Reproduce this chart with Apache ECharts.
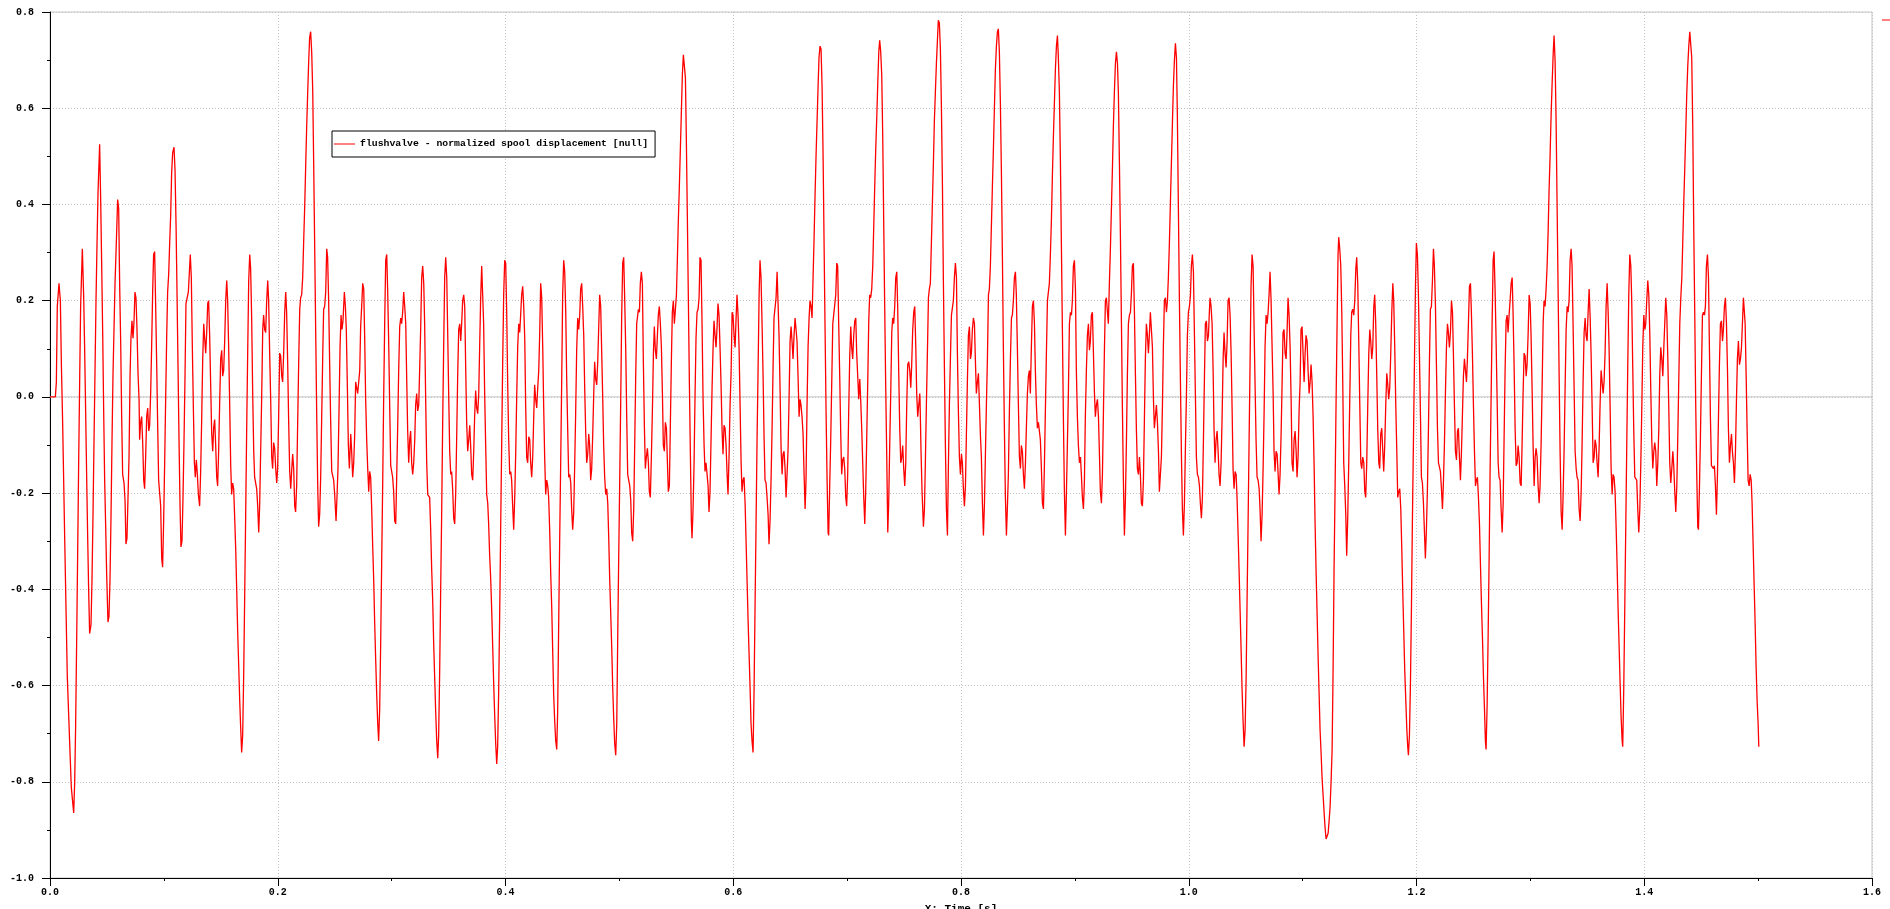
<!DOCTYPE html>
<html><head><meta charset="utf-8">
<script src="https://cdn.jsdelivr.net/npm/echarts@6/dist/echarts.min.js"></script>
<style>html,body{margin:0;padding:0;background:#fff}#c{width:1890px;height:909px}</style>
</head><body><div id="c"></div>
<script>
const seriesName = 'flushvalve - normalized spool displacement [null]';
const xAxisTitle = 'X: Time [s]';
const xTicks = {min: 0, max: 1.6, step: 0.2};
const yTicks = {min: -1.0, max: 0.8, step: 0.2};
const zeroLine = [[0, 0], [1.6, 0]];

// [time s, value]
const seg0 = [[0,0],[.0047,0],[.0056,.031],[.0064,.188],[.0079,.236],[.0091,.2],[.01,.067],[.0111,-.053],[.0129,-.294],[.0152,-.582],[.0173,-.721],[.0187,-.811],[.0208,-.865],[.0217,-.799],[.0225,-.685],[.0234,-.51],[.0243,-.324],[.0252,-.131],[.0261,.043],[.0269,.188],[.0284,.308],[.0296,.206],[.0304,.103],[.0313,-.029],[.0322,-.166],[.0331,-.294],[.034,-.408],[.0348,-.492],[.036,-.474],[.0369,-.378],[.0378,-.239],[.0386,-.101],[.0395,.049],[.0404,.2],[.0413,.32],[.0422,.428],[.0436,.525],[.0445,.41],[.0454,.272],[.0463,.128],[.0471,-.023],[.048,-.173],[.0489,-.27],[.0498,-.372],[.0509,-.468],[.0518,-.456],[.0527,-.378],[.0536,-.245],[.0544,-.101],[.0553,.043],[.0562,.14],[.0571,.236],[.058,.302],[.0594,.41],[.0603,.392],[.0612,.23],[.0621,.11],[.0629,-.035],[.0638,-.161],[.065,-.179],[.0659,-.215],[.0667,-.306],[.0676,-.294],[.0685,-.209],[.0694,-.125],[.0703,.043],[.0711,.122],[.072,.158],[.0729,.122],[.0738,.158],[.0746,.218],[.0755,.206],[.0764,.14],[.0773,.049],[.0782,-.005],[.0787,-.089],[.0796,-.053],[.0805,-.041],[.0814,-.095],[.0823,-.173],[.0831,-.191],[.084,-.125],[.0849,-.041],[.0858,-.023],[.0867,-.071],[.0875,-.059],[.0884,.007],[.0893,.11],[.0902,.224],[.091,.296],[.0919,.302],[.0928,.188],[.0937,.067],[.0946,-.065],[.0954,-.173],[.0972,-.227],[.0981,-.336],[.0989,-.354],[.0998,-.258],[.1007,-.137],[.1016,.001],[.1025,.128],[.1033,.218],[.1042,.254],[.1051,.32],[.106,.38],[.1068,.464],[.1077,.507],[.1089,.519],[.1098,.471],[.1107,.356],[.1115,.224],[.1124,.067],[.1133,-.089],[.1142,-.227],[.115,-.312],[.1159,-.3],[.1168,-.209],[.1177,-.089],[.1186,.049],[.1194,.194],[.1206,.194],[.1215,.218],[.1224,.26],[.1232,.296],[.1241,.248],[.125,.103],[.1259,-.023],[.1268,-.137],[.1276,-.167],[.1285,-.131],[.1294,-.161],[.1303,-.203],[.1314,-.227],[.1323,-.155],[.1332,-.047],[.1341,.079],[.135,.152],[.1358,.122],[.1367,.091],[.1376,.134],[.1385,.194],[.1393,.2],[.1402,.128],[.1411,.025],[.142,-.077],[.1429,-.113],[.1437,-.065],[.1446,-.047],[.1455,-.101],[.1464,-.167],[.1472,-.185],[.1481,-.113],[.149,-.011],[.1499,.079],[.1508,.097],[.1516,.043],[.1525,.055],[.1534,.116],[.1543,.2],[.1552,.242],[.156,.2],[.1569,.103],[.1578,-.017],[.1587,-.143],[.1595,-.203],[.1604,-.179],[.1613,-.191],[.1622,-.252],[.1631,-.318],[.1639,-.396],[.1648,-.486],[.1657,-.558],[.1666,-.631],[.1674,-.685],[.1683,-.739],[.1692,-.703],[.1701,-.576],[.171,-.408],[.1718,-.252],[.1727,-.071],[.1736,.091],[.1745,.242],[.1754,.296],[.1762,.266],[.1771,.164],[.178,.007],[.1789,-.113],[.1797,-.167],[.1815,-.191],[.1824,-.227],[.1833,-.282],[.1841,-.227],[.185,-.113],[.1859,.001],[.1868,.14],[.1876,.17],[.1885,.14],[.1894,.134],[.1903,.2],[.1912,.242],[.192,.2],[.1929,.091],[.1938,-.005],[.1947,-.125],[.1955,-.149],[.1964,-.095],[.1973,-.107],[.1982,-.149],[.1991,-.179],[.1999,-.149],[.2008,-.041],[.2017,.091],[.2026,.085],[.2035,.043],[.2043,.031],[.2052,.091],[.2061,.176],[.207,.218],[.2078,.176],[.2087,.073],[.2096,-.053],[.2105,-.155],[.2114,-.191],[.2122,-.155],[.2131,-.119],[.214,-.149],[.2149,-.227],[.2157,-.239],[.2166,-.185],[.2175,-.053],[.2184,.073],[.2193,.182],[.2201,.206],[.221,.212],[.2219,.248],[.2228,.326],[.2237,.398],[.2245,.477],[.2254,.561],[.2263,.633],[.2272,.699],[.228,.747],[.2289,.759],[.2298,.717],[.2307,.639],[.2316,.477],[.2324,.32],[.2333,.14],[.2342,-.035],[.2351,-.185],[.2359,-.27],[.2368,-.245],[.2377,-.167],[.2386,-.041],[.2395,.085],[.2403,.182],[.2412,.188],[.2421,.218],[.243,.308],[.2438,.29],[.2447,.2],[.2456,.067],[.2465,-.053],[.2474,-.155],[.2491,-.173],[.25,-.203],[.2512,-.258],[.252,-.209],[.2529,-.149],[.2538,-.029],[.2547,.103],[.2556,.17],[.2564,.14],[.2573,.158],[.2585,.218],[.2594,.188],[.2602,.14],[.2611,.025]];
const seg1 = [[.262,-.101],[.2629,-.149],[.2641,-.077],[.2649,-.113],[.2658,-.167],[.2667,-.137],[.2676,-.077],[.2684,.031],[.2702,.007],[.272,.055],[.2728,.146],[.2737,.188],[.2746,.236],[.2755,.224],[.2763,.128],[.2772,-.005],[.2781,-.089],[.279,-.149],[.2799,-.197],[.2807,-.155],[.2816,-.167],[.2825,-.233],[.2834,-.312],[.2843,-.384],[.2851,-.468],[.286,-.546],[.2869,-.619],[.2878,-.679],[.2886,-.715],[.2895,-.649],[.2904,-.51],[.2913,-.336],[.2922,-.173],[.293,-.005],[.2939,.152],[.2948,.284],[.2957,.296],[.2965,.224],[.2974,.116],[.2983,-.017],[.2992,-.143],[.3009,-.167],[.3018,-.197],[.3027,-.258],[.3036,-.264],[.3044,-.173],[.3053,-.065],[.3062,.055],[.3071,.146],[.308,.164],[.3088,.152],[.3097,.176],[.3106,.218],[.3115,.188],[.3124,.152],[.3132,.043],[.3141,-.071],[.315,-.137],[.3159,-.089],[.3167,-.071],[.3176,-.137],[.3185,-.161],[.3194,-.137],[.3203,-.089],[.3211,-.017],[.322,.007],[.3229,-.029],[.3238,-.017],[.3246,.055],[.3255,.14],[.3264,.248],[.3273,.272],[.3282,.236],[.329,.152],[.3299,-.005],[.3308,-.137],[.3317,-.203],[.3334,-.209],[.3343,-.276],[.3352,-.36],[.3361,-.426],[.3369,-.51],[.3378,-.582],[.3387,-.655],[.3396,-.715],[.3405,-.751],[.3413,-.703],[.3422,-.57],[.3431,-.396],[.344,-.233],[.3448,-.059],[.3457,.103],[.3466,.248],[.3475,.29],[.3484,.248],[.3492,.14],[.3501,.007],[.351,-.113],[.3519,-.161],[.3527,-.155],[.3536,-.191],[.3545,-.252],[.3554,-.264],[.3563,-.197],[.3571,-.089],[.358,.043],[.3589,.14],[.3598,.152],[.3607,.116],[.3615,.152],[.3624,.2],[.3633,.212],[.3642,.188],[.365,.067],[.3659,-.053],[.3668,-.113],[.3677,-.089],[.3686,-.059],[.3694,-.101],[.3703,-.161],[.3712,-.173],[.3721,-.113],[.3729,-.041],[.3738,.013],[.3747,-.023],[.3756,-.035],[.3765,.007],[.3773,.103],[.3782,.206],[.3791,.272],[.38,.272],[.3808,.152],[.3817,.007],[.3826,-.101],[.3835,-.203],[.3844,-.221],[.3852,-.264],[.3861,-.33],[.387,-.378],[.3879,-.444],[.3888,-.522],[.3896,-.594],[.3905,-.661],[.3914,-.721],[.3923,-.763],[.3931,-.727],[.394,-.613],[.3949,-.45],[.3958,-.264],[.3967,-.089],[.3975,.067],[.3984,.212],[.3993,.284],[.4002,.278],[.4011,.17],[.4019,.031],[.4028,-.089],[.4037,-.161],[.4046,-.155],[.4054,-.173],[.4063,-.227],[.4072,-.276],[.4081,-.209],[.409,-.113],[.4098,-.005],[.4107,.103],[.4116,.152],[.4125,.134],[.4133,.17],[.4142,.212],[.4151,.23],[.416,.188],[.4169,.122],[.4177,-.017],[.4186,-.125],[.4195,-.137],[.4204,-.083],[.4213,-.089],[.4221,-.137],[.423,-.167],[.4239,-.125],[.4248,-.041],[.4256,.025],[.4265,-.005],[.4274,-.023],[.4283,.019],[.4292,.055],[.43,.128],[.4309,.236],[.4318,.206],[.4327,.103],[.4335,-.017],[.4344,-.125],[.4353,-.203],[.4362,-.173],[.4371,-.185],[.4379,-.209],[.4388,-.276],[.4397,-.366],[.4406,-.438],[.4415,-.534],[.4423,-.619],[.4432,-.673],[.4441,-.715],[.445,-.733],[.4458,-.655],[.4467,-.474],[.4476,-.294],[.4485,-.131],[.4494,.043],[.4502,.212],[.4511,.284],[.452,.26],[.4529,.176],[.4537,.043],[.4546,-.065],[.4555,-.167],[.4564,-.161],[.4573,-.179],[.4581,-.233],[.459,-.276],[.4599,-.239],[.4608,-.137],[.4616,-.035],[.4625,.097],[.4634,.164],[.4643,.14],[.4652,.17],[.466,.224],[.4669,.236],[.4678,.188],[.4687,.128],[.4696,.013],[.4704,-.071],[.4713,-.137],[.4722,-.119],[.4731,-.077],[.4739,-.101],[.4748,-.173],[.4757,-.149],[.4766,-.077],[.4775,.007],[.4783,.073],[.4792,.037],[.4801,.025],[.481,.073],[.4818,.14],[.4827,.212],[.4836,.188],[.4845,.091],[.4854,-.005],[.4862,-.101],[.4871,-.167],[.488,-.203],[.4889,-.191],[.4898,-.221],[.4906,-.288],[.4915,-.378],[.4924,-.45],[.4933,-.522],[.4941,-.6],[.495,-.667],[.4959,-.721],[.4968,-.745],[.4977,-.679],[.4985,-.51],[.4994,-.336],[.5003,-.173],[.5012,-.005],[.502,.164],[.5029,.278],[.5038,.29],[.5047,.2],[.5056,.097],[.5064,-.035],[.5073,-.161],[.5091,-.185],[.51,-.215],[.5108,-.282],[.5117,-.3],[.5126,-.233],[.5135,-.095],[.5143,.037],[.5152,.152],[.5161,.17]];
const seg2 = [[.5167,.182],[.5176,.176],[.5184,.236],[.5193,.26],[.5202,.236],[.5211,.067],[.522,-.065],[.5228,-.149],[.5237,-.125],[.5246,-.107],[.5255,-.137],[.5263,-.197],[.5272,-.209],[.5281,-.125],[.529,-.029],[.5299,.091],[.5307,.146],[.5316,.097],[.5325,.079],[.5334,.128],[.5342,.17],[.5351,.188],[.536,.152],[.5369,.103],[.5378,.007],[.5386,-.101],[.5395,-.113],[.5404,-.053],[.5413,-.065],[.5422,-.137],[.543,-.197],[.5439,-.185],[.5448,-.053],[.5457,.079],[.5465,.176],[.5474,.2],[.5483,.152],[.5492,.152],[.5501,.212],[.5509,.284],[.5518,.368],[.5527,.44],[.5536,.519],[.5545,.597],[.5553,.669],[.5562,.711],[.5571,.711],[.558,.663],[.5588,.537],[.5597,.374],[.5606,.2],[.5615,.025],[.5624,-.125],[.5632,-.258],[.5638,-.294],[.5647,-.233],[.5656,-.137],[.5664,-.005],[.5673,.122],[.5682,.176],[.5691,.182],[.57,.206],[.5708,.29],[.5717,.284],[.5726,.152],[.5735,-.005],[.5744,-.101],[.5752,-.155],[.5761,-.137],[.577,-.137],[.5779,-.185],[.5787,-.239],[.5796,-.197],[.5805,-.089],[.5814,.019],[.5823,.103],[.5831,.158],[.584,.128],[.5849,.103],[.5858,.146],[.5866,.194],[.5875,.17],[.5884,.103],[.5893,.025],[.5902,-.071],[.591,-.119],[.5919,-.059],[.5928,-.065],[.5937,-.101],[.5946,-.161],[.5954,-.203],[.5963,-.125],[.5972,-.017],[.5981,.049],[.599,.176],[.5998,.17],[.6007,.128],[.6016,.103],[.6025,.164],[.6033,.212],[.6042,.17],[.6051,.103],[.606,-.017],[.6069,-.137],[.6077,-.197],[.6086,-.173],[.6095,-.167],[.6104,-.221],[.6112,-.294],[.6121,-.378],[.613,-.462],[.6139,-.534],[.6148,-.606],[.6156,-.679],[.6165,-.715],[.6174,-.739],[.6183,-.606],[.6191,-.444],[.62,-.27],[.6209,-.089],[.6218,.055],[.6227,.212],[.6235,.284],[.6244,.248],[.6253,.152],[.6262,.043],[.6271,-.089],[.6279,-.173],[.6288,-.179],[.6297,-.209],[.6306,-.245],[.6314,-.306],[.6323,-.258],[.6332,-.173],[.6341,-.065],[.635,.067],[.6358,.164],[.6367,.164],[.6376,.206],[.6385,.26],[.6393,.26],[.6402,.128],[.6411,.019],[.642,-.107],[.6429,-.161],[.6437,-.119],[.6446,-.113],[.6455,-.149],[.6464,-.209],[.6473,-.209],[.6481,-.113],[.649,-.005],[.6499,.116],[.6508,.146],[.6516,.116],[.6525,.079],[.6534,.128],[.6543,.164],[.6552,.164],[.656,.116],[.6569,.043],[.6578,-.041],[.6587,-.005],[.6595,-.017],[.6604,-.041],[.6613,-.077],[.6622,-.161],[.6631,-.233],[.6639,-.173],[.6648,-.017],[.6657,.103],[.6666,.164],[.6674,.2],[.6683,.188],[.6692,.164],[.6701,.248],[.671,.332],[.6718,.416],[.6727,.5],[.6736,.573],[.6745,.645],[.6753,.705],[.6762,.729],[.6771,.723],[.678,.645],[.6789,.5],[.6797,.332],[.6806,.146],[.6815,-.029],[.6824,-.173],[.6833,-.282],[.6838,-.288],[.6847,-.185],[.6856,-.089],[.6865,.031],[.6874,.152],[.6882,.17],[.6891,.17],[.69,.212],[.6909,.278],[.6917,.272],[.6926,.152],[.6935,.043],[.6944,-.077],[.6952,-.161],[.6961,-.131],[.697,-.125],[.6979,-.149],[.6988,-.209],[.6996,-.227],[.7005,-.161],[.7014,-.029],[.7023,.085],[.7032,.146],[.704,.103],[.7049,.079],[.7058,.128],[.7067,.158],[.7076,.164],[.7084,.091],[.7093,.043],[.7102,-.005],[.7111,.037],[.7119,-.005],[.7128,-.065],[.7137,-.137],[.7146,-.209],[.7155,-.264],[.7163,-.197],[.7172,-.089],[.7181,.031],[.719,.158],[.7198,.212],[.7207,.206],[.7216,.224],[.7225,.272],[.7234,.356],[.7242,.434],[.7251,.513],[.726,.579],[.7269,.651],[.7278,.717],[.7286,.741],[.7295,.717],[.7304,.669],[.7313,.537],[.7321,.368],[.733,.188],[.7339,.019],[.7348,-.125],[.7357,-.282],[.7365,-.221],[.7374,-.101],[.7383,.007],[.7392,.134],[.74,.164],[.7409,.152],[.7418,.188],[.7427,.248],[.7436,.26],[.7444,.188],[.7453,.055],[.7462,-.065],[.7471,-.137],[.748,-.125],[.7488,-.101],[.7497,-.149],[.7506,-.185],[.7515,-.137],[.7523,-.023],[.7532,.067],[.7541,.073],[.755,.055],[.7559,.019],[.7567,.067],[.7576,.14],[.7585,.176],[.7594,.188],[.7603,.103],[.7611,.007],[.762,-.041],[.7629,-.017],[.7638,.007]];
const seg3 = [[.764,-.005],[.7649,-.113],[.7658,-.197],[.767,-.27],[.7679,-.233],[.7687,-.137],[.7696,-.017],[.7705,.091],[.7714,.206],[.7722,.224],[.7731,.236],[.774,.32],[.7749,.404],[.7758,.489],[.7766,.573],[.7775,.633],[.7784,.693],[.7793,.741],[.7801,.783],[.781,.777],[.7819,.723],[.7828,.603],[.7837,.44],[.7845,.248],[.7854,.067],[.7863,-.101],[.7872,-.233],[.7881,-.288],[.7889,-.149],[.7898,-.017],[.7907,.079],[.7916,.17],[.7924,.17],[.7933,.2],[.7942,.248],[.7951,.278],[.796,.248],[.7968,.097],[.7977,-.029],[.7986,-.125],[.7995,-.161],[.8004,-.119],[.8012,-.137],[.8021,-.191],[.803,-.227],[.8039,-.185],[.8047,-.083],[.8056,.031],[.8065,.128],[.8074,.146],[.8083,.079],[.8091,.091],[.81,.14],[.8109,.164],[.8118,.152],[.8126,.079],[.8135,.007],[.8144,.031],[.8153,.049],[.8162,-.017],[.817,-.077],[.8179,-.125],[.8188,-.221],[.8197,-.288],[.8206,-.221],[.8214,-.125],[.8223,-.017],[.8232,.079],[.8241,.212],[.8249,.224],[.8258,.272],[.8267,.356],[.8276,.44],[.8285,.519],[.8293,.597],[.8302,.681],[.8311,.729],[.832,.759],[.8328,.765],[.8337,.717],[.8346,.609],[.8355,.464],[.8364,.284],[.8372,.103],[.8381,-.065],[.839,-.209],[.8399,-.288],[.8407,-.233],[.8416,-.161],[.8425,-.029],[.8434,.079],[.8443,.164],[.8451,.17],[.846,.2],[.8469,.248],[.8478,.26],[.8486,.212],[.8495,.103],[.8504,-.017],[.8513,-.125],[.8522,-.149],[.853,-.101],[.8539,-.113],[.8548,-.161],[.8557,-.191],[.8566,-.137],[.8574,-.065],[.8583,.007],[.8592,.043],[.8601,.055],[.8609,.007],[.8618,.103],[.8627,.188],[.8636,.2],[.8645,.152],[.8653,.055],[.8662,-.017],[.8671,-.065],[.868,-.053],[.8689,-.053],[.8697,-.089],[.8706,-.149],[.8715,-.221],[.8724,-.233],[.8732,-.149],[.8741,-.029],[.875,.091],[.8759,.2],[.8768,.2],[.8776,.236],[.8785,.296],[.8794,.368],[.8803,.464],[.8811,.537],[.882,.609],[.8829,.681],[.8838,.729],[.8847,.751],[.8855,.705],[.8864,.633],[.8873,.489],[.8882,.308],[.8891,.128],[.8899,-.041],[.8908,-.197],[.8917,-.288],[.8926,-.197],[.8934,-.101],[.8943,.007],[.8952,.152],[.8961,.176],[.897,.17],[.8978,.2],[.8987,.272],[.8996,.284],[.9005,.224],[.9013,.055],[.9022,-.041],[.9031,-.101],[.904,-.137],[.9049,-.125],[.9057,-.161],[.9066,-.209],[.9075,-.233],[.9084,-.173],[.9092,-.041],[.9101,.055],[.911,.128],[.9119,.152],[.9128,.097],[.9136,.116],[.9145,.17],[.9154,.176],[.9163,.091],[.9172,.007],[.918,-.041],[.9189,-.017],[.9198,-.005],[.9207,-.041],[.9215,-.113],[.9224,-.197],[.9233,-.221],[.9242,-.161],[.9251,-.029],[.9259,.091],[.9268,.2],[.9277,.206],[.9286,.176],[.9294,.152],[.9303,.236],[.9312,.308],[.9321,.392],[.933,.477],[.9338,.561],[.9347,.633],[.9356,.693],[.9365,.717],[.9374,.693],[.9382,.633],[.9391,.489],[.94,.332],[.9409,.152],[.9417,-.017],[.9426,-.173],[.9435,-.288],[.9444,-.209],[.9453,-.089],[.9461,.043],[.947,.152],[.9479,.17],[.9488,.176],[.9496,.212],[.9505,.272],[.9514,.278],[.9523,.176],[.9532,.043],[.954,-.065],[.9549,-.149],[.9558,-.161],[.9567,-.125],[.9575,-.161],[.9584,-.221],[.9593,-.227],[.9602,-.173],[.9611,-.041],[.9619,.079],[.9628,.152],[.9637,.128],[.9646,.091],[.9654,.128],[.9663,.176],[.9672,.176],[.9681,.103],[.969,-.005],[.9698,-.065],[.9707,-.041],[.9716,-.017],[.9725,-.053],[.9734,-.113],[.9742,-.197],[.9751,-.197],[.976,-.125],[.9769,-.017],[.9777,.103],[.9786,.2],[.9795,.206],[.9804,.176],[.9813,.2],[.9821,.248],[.983,.32],[.9839,.404],[.9848,.489],[.9857,.573],[.9865,.645],[.9874,.699],[.9883,.735],[.9892,.705],[.99,.585],[.9909,.392],[.9918,.2],[.9927,.031],[.9936,-.125],[.9944,-.233],[.9953,-.288],[.9962,-.221],[.9971,-.101],[.998,.007],[.9988,.128],[.9997,.176],[1.0006,.188],[1.0015,.212],[1.0023,.272],[1.0032,.296],[1.0041,.26],[1.005,.128],[1.0059,-.005],[1.0067,-.125],[1.0076,-.161],[1.0085,-.167],[1.0094,-.185],[1.0102,-.221],[1.0111,-.252],[1.012,-.209],[1.0129,-.089],[1.0138,.043],[1.0146,.152],[1.0155,.158],[1.0164,.116],[1.0173,.128],[1.0181,.176]];
const seg4 = [[1.0187,.206],[1.0196,.188],[1.0205,.152],[1.0214,.055],[1.0222,-.065],[1.0231,-.137],[1.024,-.089],[1.0249,-.071],[1.0258,-.113],[1.0266,-.161],[1.0275,-.185],[1.0284,-.137],[1.0293,-.041],[1.0302,.079],[1.031,.134],[1.0319,.091],[1.0328,.061],[1.0337,.116],[1.0345,.2],[1.0354,.206],[1.0363,.17],[1.0372,.091],[1.0381,-.029],[1.0389,-.149],[1.0398,-.191],[1.0407,-.155],[1.0416,-.161],[1.0424,-.209],[1.0433,-.282],[1.0442,-.36],[1.0451,-.444],[1.046,-.528],[1.0468,-.606],[1.0477,-.673],[1.0486,-.727],[1.0495,-.691],[1.0504,-.582],[1.0512,-.426],[1.0521,-.264],[1.053,-.089],[1.0539,.079],[1.0547,.23],[1.0556,.296],[1.0565,.272],[1.0574,.14],[1.0583,.019],[1.0591,-.089],[1.06,-.167],[1.0609,-.173],[1.0618,-.191],[1.0626,-.233],[1.0635,-.3],[1.0644,-.245],[1.0653,-.149],[1.0662,-.029],[1.067,.103],[1.0679,.17],[1.0688,.152],[1.0697,.176],[1.0705,.212],[1.0714,.26],[1.0723,.2],[1.0732,.103],[1.0741,.007],[1.0749,-.113],[1.0758,-.155],[1.0767,-.113],[1.0776,-.119],[1.0785,-.161],[1.0793,-.203],[1.0802,-.161],[1.0811,-.077],[1.082,.031],[1.0828,.134],[1.0837,.14],[1.0846,.091],[1.0855,.079],[1.0864,.14],[1.0872,.206],[1.0881,.17],[1.089,.103],[1.0899,-.005],[1.0907,-.137],[1.0916,-.155],[1.0925,-.089],[1.0934,-.071],[1.0943,-.113],[1.0951,-.167],[1.096,-.125],[1.0969,-.029],[1.0978,.031],[1.0986,.14],[1.0995,.146],[1.1004,.091],[1.1013,.031],[1.1022,.091],[1.103,.128],[1.1039,.116],[1.1048,.055],[1.1057,.007],[1.1066,.031],[1.1074,.067],[1.1083,.031],[1.1092,-.041],[1.1101,-.143],[1.1109,-.258],[1.1118,-.36],[1.1127,-.45],[1.1136,-.54],[1.1145,-.619],[1.1153,-.691],[1.1162,-.739],[1.1171,-.793],[1.118,-.829],[1.1189,-.865],[1.1197,-.895],[1.1206,-.919],[1.1215,-.919],[1.1224,-.907],[1.1232,-.883],[1.1241,-.853],[1.125,-.799],[1.1259,-.733],[1.1268,-.558],[1.1276,-.36],[1.1285,-.191],[1.1294,-.005],[1.1303,.158],[1.1311,.296],[1.1317,.332],[1.1326,.308],[1.1335,.272],[1.1344,.176],[1.1352,.037],[1.1361,-.137],[1.137,-.185],[1.1379,-.245],[1.1387,-.33],[1.1396,-.252],[1.1405,-.137],[1.1414,-.005],[1.1423,.128],[1.1431,.176],[1.144,.182],[1.1449,.17],[1.1458,.2],[1.1467,.266],[1.1475,.29],[1.1484,.236],[1.1493,.116],[1.1502,-.017],[1.1511,-.137],[1.1519,-.149],[1.1528,-.125],[1.1537,-.137],[1.1546,-.197],[1.1554,-.209],[1.1563,-.137],[1.1572,-.017],[1.1581,.091],[1.159,.14],[1.1598,.116],[1.1607,.079],[1.1616,.103],[1.1625,.188],[1.1633,.212],[1.1642,.152],[1.1651,.043],[1.166,-.071],[1.1669,-.137],[1.1677,-.149],[1.1686,-.077],[1.1695,-.065],[1.1704,-.113],[1.1712,-.155],[1.1721,-.101],[1.173,-.017],[1.1739,.049],[1.1748,.025],[1.1756,-.005],[1.1765,.019],[1.1774,.091],[1.1783,.176],[1.1792,.236],[1.18,.2],[1.1809,.103],[1.1818,-.017],[1.1827,-.113],[1.1835,-.209],[1.1844,-.197],[1.1853,-.191],[1.1862,-.233],[1.1871,-.318],[1.1879,-.402],[1.1888,-.486],[1.1897,-.57],[1.1906,-.631],[1.1915,-.691],[1.1923,-.727],[1.1929,-.745],[1.1938,-.703],[1.1947,-.594],[1.1956,-.432],[1.1964,-.258],[1.1973,-.095],[1.1982,.073],[1.1991,.23],[1.1999,.32],[1.2008,.296],[1.2017,.212],[1.2026,.085],[1.2035,-.041],[1.2043,-.167],[1.2052,-.179],[1.2061,-.221],[1.207,-.282],[1.2078,-.336],[1.2087,-.276],[1.2096,-.191],[1.2105,-.065],[1.2114,.079],[1.2122,.182],[1.2131,.188],[1.214,.242],[1.2149,.308],[1.2157,.272],[1.2166,.194],[1.2175,.067],[1.2184,-.065],[1.2193,-.137],[1.2201,-.137],[1.221,-.155],[1.2219,-.191],[1.2228,-.233],[1.2237,-.173],[1.2245,-.101],[1.2254,.007],[1.2263,.103],[1.2272,.152],[1.228,.134],[1.2289,.103],[1.2298,.134],[1.2307,.2],[1.2316,.176],[1.2324,.091],[1.2333,-.017],[1.2342,-.113],[1.2351,-.131],[1.236,-.071],[1.2368,-.065],[1.2377,-.125],[1.2386,-.173],[1.2395,-.113],[1.2403,-.041],[1.2412,.043],[1.2421,.079],[1.243,.055],[1.2439,.031],[1.2447,.079],[1.2456,.152],[1.2465,.23],[1.2474,.236],[1.2482,.176],[1.2491,.091],[1.25,-.017],[1.2509,-.113],[1.2518,-.185],[1.2526,-.173],[1.2535,-.167],[1.2544,-.209],[1.2553,-.264],[1.2561,-.342],[1.257,-.426],[1.2579,-.498],[1.2588,-.582],[1.2597,-.649],[1.2605,-.715],[1.2611,-.733],[1.262,-.643],[1.2629,-.498],[1.2638,-.33],[1.2646,-.161],[1.2655,-.005],[1.2664,.152],[1.2673,.284],[1.2681,.302],[1.269,.224],[1.2699,.116],[1.2708,-.005],[1.2717,-.137],[1.2725,-.167]];
const seg5 = [[1.2734,-.173],[1.2743,-.233],[1.2752,-.282],[1.2761,-.221],[1.2769,-.089],[1.2778,.055],[1.2787,.158],[1.2796,.17],[1.2804,.134],[1.2813,.17],[1.2822,.2],[1.2831,.236],[1.284,.248],[1.2848,.176],[1.2857,.067],[1.2866,-.065],[1.2875,-.143],[1.2884,-.137],[1.2892,-.101],[1.2901,-.125],[1.291,-.179],[1.2919,-.185],[1.2927,-.101],[1.2936,.007],[1.2945,.091],[1.2954,.085],[1.2963,.043],[1.2971,.067],[1.298,.128],[1.2989,.212],[1.2998,.194],[1.3006,.128],[1.3015,.019],[1.3024,-.101],[1.3033,-.185],[1.3042,-.125],[1.305,-.107],[1.3059,-.125],[1.3068,-.185],[1.3077,-.221],[1.3085,-.185],[1.3094,-.101],[1.3103,.019],[1.3112,.152],[1.312,.2],[1.3129,.188],[1.3138,.224],[1.3147,.272],[1.3156,.344],[1.3164,.428],[1.3173,.5],[1.3182,.585],[1.3191,.651],[1.32,.711],[1.3208,.751],[1.3217,.699],[1.3226,.573],[1.3235,.392],[1.3244,.212],[1.3252,.055],[1.3261,-.113],[1.327,-.239],[1.3279,-.276],[1.3287,-.209],[1.3296,-.113],[1.3305,.019],[1.3314,.14],[1.3323,.188],[1.3331,.176],[1.334,.2],[1.3349,.284],[1.3358,.308],[1.3366,.272],[1.3375,.152],[1.3384,.019],[1.3393,-.113],[1.3402,-.149],[1.341,-.167],[1.3419,-.173],[1.3428,-.233],[1.3437,-.258],[1.3446,-.197],[1.3454,-.101],[1.3463,.031],[1.3472,.134],[1.3481,.164],[1.3489,.128],[1.3498,.116],[1.3507,.176],[1.3516,.224],[1.3525,.164],[1.3533,.091],[1.3542,-.017],[1.3551,-.137],[1.356,-.125],[1.3568,-.089],[1.3577,-.101],[1.3586,-.137],[1.3595,-.167],[1.3604,-.101],[1.3612,-.017],[1.3621,.055],[1.363,.055],[1.3639,.007],[1.3647,.031],[1.3656,.091],[1.3665,.188],[1.3674,.236],[1.3683,.176],[1.3691,.103],[1.37,-.017],[1.3709,-.149],[1.3718,-.203],[1.3726,-.161],[1.3735,-.167],[1.3744,-.197],[1.3753,-.27],[1.3762,-.354],[1.377,-.438],[1.3779,-.516],[1.3788,-.594],[1.3797,-.667],[1.3806,-.715],[1.3811,-.727],[1.382,-.606],[1.3829,-.438],[1.3838,-.264],[1.3847,-.089],[1.3855,.061],[1.3864,.212],[1.3873,.296],[1.3882,.272],[1.389,.2],[1.3899,.061],[1.3908,-.071],[1.3917,-.167],[1.3934,-.173],[1.3943,-.233],[1.3952,-.282],[1.3961,-.233],[1.397,-.137],[1.3978,-.029],[1.3987,.103],[1.3996,.17],[1.4005,.14],[1.4013,.152],[1.4022,.2],[1.4031,.242],[1.404,.212],[1.4049,.128],[1.4057,.019],[1.4066,-.089],[1.4075,-.149],[1.4084,-.113],[1.4092,-.095],[1.4101,-.113],[1.411,-.185],[1.4119,-.137],[1.4128,-.065],[1.4136,.043],[1.4145,.103],[1.4154,.079],[1.4163,.043],[1.4172,.103],[1.418,.152],[1.4189,.206],[1.4198,.17],[1.4207,.079],[1.4215,-.017],[1.4224,-.137],[1.4233,-.179],[1.4242,-.149],[1.4251,-.113],[1.4259,-.143],[1.4268,-.197],[1.4277,-.239],[1.4286,-.185],[1.4294,-.089],[1.4303,.031],[1.4312,.152],[1.4321,.206],[1.433,.248],[1.4338,.32],[1.4347,.404],[1.4356,.477],[1.4365,.555],[1.4373,.627],[1.4382,.687],[1.4391,.729],[1.44,.759],[1.4409,.759],[1.4417,.705],[1.4426,.561],[1.4435,.344],[1.4444,.164],[1.4452,-.017],[1.4461,-.161],[1.447,-.27],[1.4476,-.276],[1.4485,-.185],[1.4493,-.089],[1.4502,.043],[1.4511,.17],[1.452,.176],[1.4529,.17],[1.4537,.188],[1.4546,.272],[1.4555,.296],[1.4564,.248],[1.4573,.091],[1.4581,-.041],[1.459,-.143],[1.4608,-.149],[1.4616,-.143],[1.4625,-.185],[1.4634,-.245],[1.4643,-.161],[1.4652,-.041],[1.466,.067],[1.4669,.152],[1.4678,.158],[1.4687,.116],[1.4695,.14],[1.4704,.188],[1.4713,.206],[1.4722,.152],[1.4731,.055],[1.4739,-.065],[1.4748,-.137],[1.4757,-.101],[1.4766,-.077],[1.4774,-.113],[1.4783,-.137],[1.4792,-.179],[1.4801,-.113],[1.481,-.005],[1.4818,.079],[1.4827,.116],[1.4836,.067],[1.4845,.079],[1.4854,.103],[1.4862,.152],[1.4871,.206],[1.4877,.209],[1.4886,.152],[1.4895,.043],[1.4903,-.065],[1.4912,-.173],[1.4921,-.185],[1.493,-.161],[1.4939,-.173],[1.4947,-.221],[1.4956,-.306],[1.4965,-.39],[1.4974,-.474],[1.4982,-.558],[1.4991,-.631],[1.5,-.679],[1.5006,-.727]];

const signal = [].concat(seg0, seg1, seg2, seg3, seg4, seg5);

const monoFont = 'Liberation Mono';
const chart = echarts.init(document.getElementById('c'), null, {renderer: 'canvas', width: 1890, height: 909});
const labelStyle = {color: '#000', fontFamily: monoFont, fontSize: 10, fontWeight: 'bold'};
const axisCommon = {
  axisLine: {show: true, onZero: false, lineStyle: {color: '#000', width: 1}},
  axisTick: {show: true, length: 8, lineStyle: {color: '#000'}},
  minorTick: {show: true, splitNumber: 2, length: 3, lineStyle: {color: '#000'}},
  splitLine: {show: true, lineStyle: {color: '#c4c4c4', type: [1, 2], width: 1}},
  axisLabel: Object.assign({}, labelStyle, {formatter: v => v.toFixed(1)})
};
chart.setOption({
  backgroundColor: '#fff',
  animation: false,
  grid: {left: 50, top: 12, right: 18, bottom: 31, containLabel: false, outerBoundsMode: 'none',
         show: true, borderColor: '#c4c4c4', borderWidth: 1, backgroundColor: 'transparent'},
  legend: [
    {data: [seriesName], left: 332, top: 131, orient: 'horizontal', icon: 'rect', itemWidth: 21, itemHeight: 1,
     padding: [8, 7, 8, 2], backgroundColor: '#fff', borderColor: '#000', borderWidth: 1, borderRadius: 0,
     textStyle: Object.assign({}, labelStyle, {fontSize: 9.8}), selectedMode: false},
    {data: [seriesName], left: 1882, top: 15, icon: 'rect', itemWidth: 21, itemHeight: 1, padding: 0,
     textStyle: Object.assign({}, labelStyle, {fontSize: 9.8}), selectedMode: false}
  ],
  xAxis: Object.assign({}, axisCommon, {
    type: 'value', min: xTicks.min, max: xTicks.max, interval: xTicks.step,
    name: xAxisTitle, nameLocation: 'middle', nameGap: 26,
    nameTextStyle: Object.assign({}, labelStyle, {fontSize: 11}),
    axisLabel: Object.assign({}, axisCommon.axisLabel, {margin: 9})
  }),
  yAxis: Object.assign({}, axisCommon, {
    type: 'value', min: yTicks.min, max: yTicks.max, interval: yTicks.step,
    axisLabel: Object.assign({}, axisCommon.axisLabel, {margin: 16})
  }),
  series: [
    {name: 'zero', type: 'line', data: zeroLine, showSymbol: false, silent: true, z: 1,
     lineStyle: {color: '#c4c4c4', width: 1}, itemStyle: {color: '#c4c4c4'}},
    {name: seriesName, type: 'line', data: signal, showSymbol: false, z: 3, sampling: false,
     lineStyle: {color: '#ff0000', width: 1.3}, itemStyle: {color: '#ff0000'}}
  ]
});
</script></body></html>
